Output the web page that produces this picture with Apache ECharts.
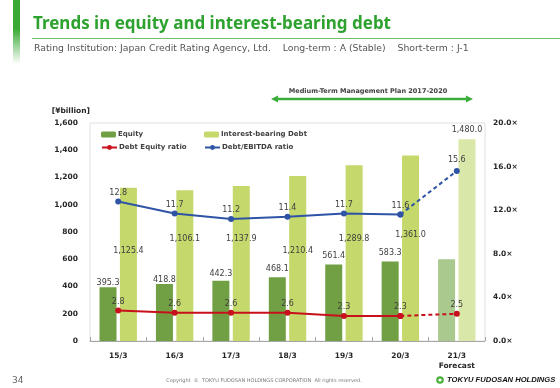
<!DOCTYPE html>
<html><head><meta charset="utf-8">
<script src="https://cdn.jsdelivr.net/npm/echarts@6/dist/echarts.min.js"></script>
<style>html,body{margin:0;padding:0;background:#fff}#c{width:560px;height:388px}</style>
</head><body><div id="c"></div>
<script>
// ---- data ----
const categories = ['15/3', '16/3', '17/3', '18/3', '19/3', '20/3', '21/3\nForecast'];
const equity = [395.3, 418.8, 442.3, 468.1, 561.4, 583.3, 600];
const equityLabels = ['395.3', '418.8', '442.3', '468.1', '561.4', '583.3', ''];
const debt = [1125.4, 1106.1, 1137.9, 1210.4, 1289.8, 1361.0, 1480.0];
const debtLabels = ['1,125.4', '1,106.1', '1,137.9', '1,210.4', '1,289.8', '1,361.0', '1,480.0'];
const deRatio = [2.8, 2.6, 2.6, 2.6, 2.3, 2.3, 2.5];
const debtEbitda = [12.8, 11.7, 11.2, 11.4, 11.7, 11.6, 15.6];
const leftAxis = {min: 0, max: 1600, interval: 200};
const rightAxis = {min: 0, max: 20, interval: 4};

// ---- style helpers (not data) ----
const FONT = 'DejaVu Sans';
const C_EQ = '#70a043', C_EQ_F = '#a9c98e';
const C_DEBT = '#c4d86b', C_DEBT_F = '#d9e7a9';
const C_BLUE = '#2f54a5', C_RED = '#c8101c';
const debtLabelDy = [63, 49, 53, 75, 74, 79, -9];   // label centre below bar top (px)
const eqLabelDy = [-4, -4, -7, -8, -9, -9, 0];
const last = categories.length - 1;

const equityData = equity.map((v, i) => ({
  value: v,
  itemStyle: {color: i === last ? C_EQ_F : C_EQ},
  label: {show: equityLabels[i] !== '', formatter: equityLabels[i], position: ['50%', eqLabelDy[i]]}
}));
const debtData = debt.map((v, i) => ({
  value: v,
  itemStyle: {color: i === last ? C_DEBT_F : C_DEBT},
  label: {formatter: debtLabels[i], position: ['50%', debtLabelDy[i]]}
}));
const solidPart = arr => arr.map((v, i) => i < last ? v : '-');
const dashPart = arr => arr.map((v, i) => i >= last - 1 ? v : '-');

const lblBase = {show: true, color: '#404040', fontFamily: FONT, fontSize: 8, align: 'center', verticalAlign: 'middle'};
const legText = {fontSize: 7, fontWeight: 'bold', color: '#404040', padding: [0, 0, 0, -3]};

const chart = echarts.init(document.getElementById('c'), null, {renderer: 'canvas'});
chart.setOption({
  animation: false,
  backgroundColor: '#fff',
  textStyle: {fontFamily: FONT},
  grid: {left: 90, right: 75, top: 123, bottom: 47, show: true, borderColor: '#e0e0e0', borderWidth: 1},
  legend: [
    {data: ['Equity'], left: 96, top: 126, itemWidth: 15, itemHeight: 6, textStyle: legText},
    {data: ['Interest-bearing Debt'], left: 199, top: 126, itemWidth: 15, itemHeight: 6, textStyle: legText},
    {data: ['Debt Equity ratio'], left: 96, top: 139, itemWidth: 15, itemHeight: 6, textStyle: legText},
    {data: ['Debt/EBITDA ratio'], left: 199, top: 139, itemWidth: 15, itemHeight: 6, textStyle: legText}
  ],
  xAxis: {
    type: 'category', data: categories,
    axisLine: {lineStyle: {color: '#a6a6a6'}},
    axisTick: {show: true, inside: true, length: 4, lineStyle: {color: '#a6a6a6'}},
    axisLabel: {color: '#262626', fontWeight: 'bold', fontSize: 7.5, margin: 10, lineHeight: 10}
  },
  yAxis: [
    {type: 'value', min: leftAxis.min, max: leftAxis.max, interval: leftAxis.interval,
     splitLine: {show: false}, axisLine: {show: false}, axisTick: {show: false},
     axisLabel: {color: '#262626', fontWeight: 'bold', fontSize: 7.5, margin: 12,
       formatter: v => v.toLocaleString('en-US')},
     name: '[¥billion]', nameLocation: 'end', nameGap: 8,
     nameTextStyle: {color: '#262626', fontWeight: 'bold', fontSize: 7.5, align: 'right'}},
    {type: 'value', min: rightAxis.min, max: rightAxis.max, interval: rightAxis.interval,
     splitLine: {show: false}, axisLine: {show: false}, axisTick: {show: false},
     axisLabel: {color: '#262626', fontWeight: 'bold', fontSize: 7.5, margin: 8,
       formatter: v => v.toFixed(1) + '×'}}
  ],
  series: [
    {name: 'Equity', type: 'bar', data: equityData, barWidth: 17, barGap: '20%', color: C_EQ,
     label: lblBase},
    {name: 'Interest-bearing Debt', type: 'bar', data: debtData, barWidth: 17, color: C_DEBT,
     label: lblBase},
    {name: 'Debt Equity ratio', type: 'line', yAxisIndex: 1, data: solidPart(deRatio), color: C_RED,
     symbol: 'circle', symbolSize: 6, lineStyle: {width: 2, color: C_RED}, itemStyle: {color: C_RED},
     label: Object.assign({}, lblBase, {position: 'top', distance: 6})},
    {name: 'Debt Equity ratio', type: 'line', yAxisIndex: 1, data: dashPart(deRatio), color: C_RED,
     symbol: 'circle', symbolSize: 6, lineStyle: {width: 2, type: [4, 3], color: C_RED}, itemStyle: {color: C_RED},
     label: Object.assign({}, lblBase, {position: 'top', distance: 6,
       formatter: p => p.dataIndex === last ? p.value : ''})},
    {name: 'Debt/EBITDA ratio', type: 'line', yAxisIndex: 1, data: solidPart(debtEbitda), color: C_BLUE,
     symbol: 'circle', symbolSize: 6, lineStyle: {width: 2, color: C_BLUE}, itemStyle: {color: C_BLUE},
     label: Object.assign({}, lblBase, {position: 'top', distance: 6})},
    {name: 'Debt/EBITDA ratio', type: 'line', yAxisIndex: 1, data: dashPart(debtEbitda), color: C_BLUE,
     symbol: 'circle', symbolSize: 6, lineStyle: {width: 2, type: [4, 3], color: C_BLUE}, itemStyle: {color: C_BLUE},
     label: Object.assign({}, lblBase, {position: 'top', distance: 8,
       formatter: p => p.dataIndex === last ? p.value : ''})}
  ],
  graphic: [
    {type: 'rect', shape: {x: 13, y: 0, width: 7, height: 64}, silent: true,
     style: {fill: new echarts.graphic.LinearGradient(0, 0, 0, 1, [
       {offset: 0, color: '#3aa935'}, {offset: 0.45, color: '#3aa935'}, {offset: 1, color: 'rgba(58,169,53,0)'}])}},
    {type: 'text', left: 33, top: 16, style: {text: 'Trends in equity and interest-bearing debt',
      fill: '#2ea22f', font: 'bold 17px "Noto Sans"'}},
    {type: 'line', shape: {x1: 32, y1: 38.5, x2: 560, y2: 38.5}, style: {stroke: '#6fbf6a', lineWidth: 1}},
    {type: 'text', left: 34, top: 44, style: {text: 'Rating Institution: Japan Credit Rating Agency, Ltd.    Long-term : A (Stable)    Short-term : J-1',
      fill: '#555', font: '9.3px "DejaVu Sans"'}},
    {type: 'text', x: 368, y: 91, style: {text: 'Medium-Term Management Plan 2017-2020',
      fill: '#404040', font: 'bold 6.5px "DejaVu Sans"', align: 'center', verticalAlign: 'middle'}},
    {type: 'line', shape: {x1: 276, y1: 99, x2: 468, y2: 99}, style: {stroke: '#3cad3a', lineWidth: 2.5}},
    {type: 'polygon', shape: {points: [[271, 99], [278, 95.5], [278, 102.5]]}, style: {fill: '#3cad3a'}},
    {type: 'polygon', shape: {points: [[473, 99], [466, 95.5], [466, 102.5]]}, style: {fill: '#3cad3a'}},
    {type: 'text', left: 12, top: 376, style: {text: '34', fill: '#666', font: '9px "DejaVu Sans"'}},
    {type: 'text', x: 264, y: 381, style: {text: 'Copyright  ©  TOKYU FUDOSAN HOLDINGS CORPORATION  All rights reserved.',
      fill: '#777', font: '5px "DejaVu Sans"', align: 'center', verticalAlign: 'middle'}},
    {type: 'circle', shape: {cx: 440, cy: 380, r: 3.8}, style: {fill: '#4aaf3c'}},
    {type: 'circle', shape: {cx: 440, cy: 380, r: 1.6}, style: {fill: '#fff'}},
    {type: 'text', x: 447, y: 380, style: {text: 'TOKYU FUDOSAN HOLDINGS',
      fill: '#111', font: 'italic bold 7.6px "Liberation Sans"', verticalAlign: 'middle'}}
  ]
});
</script></body></html>
